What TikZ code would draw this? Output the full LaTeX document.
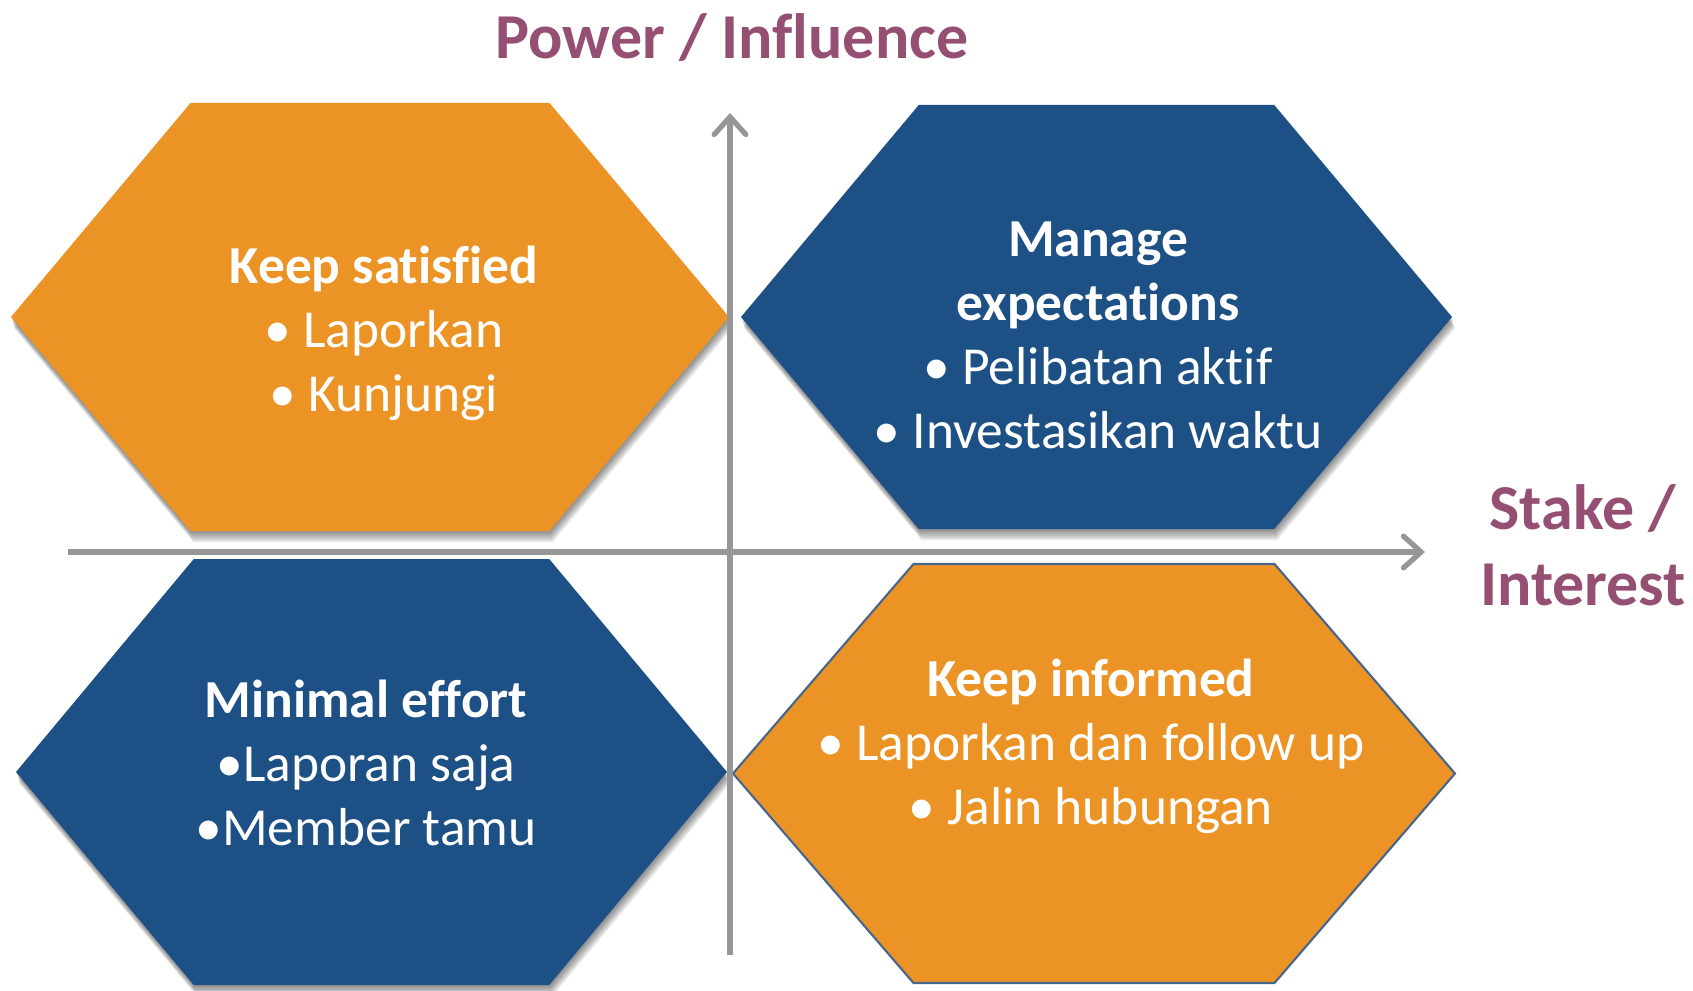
\documentclass[tikz,border=0pt]{standalone}
\usepackage{fontspec}
\setmainfont{Carlito}[Ligatures=NoCommon]
\usetikzlibrary{arrows.meta}
\definecolor{hexorange}{RGB}{235,148,37}
\definecolor{hexblue}{RGB}{29,81,134}
\definecolor{hexedge}{RGB}{72,102,140}
\definecolor{axislabel}{RGB}{149,79,114}
\definecolor{axisgray}{RGB}{150,150,150}

\begin{document}
\begin{tikzpicture}[x=0.01cm,y=-0.01cm,
  hextext/.style={text=white,align=center,font=\fontsize{15.2}{18.2}\selectfont},
  axislbl/.style={text=axislabel,align=center,font=\fontsize{18.2}{21.6}\selectfont\bfseries},
  axisline/.style={draw=axisgray,line width=1.5pt,
    -{Straight Barb[length=5pt,width=9pt,line cap=round]}}]
  \useasboundingbox (0,0) rectangle (1693,991);

  % soft shadows
  \foreach \cx/\cy/\a/\b in {370/317/359/214, 1096.5/317/355.5/212, 371.5/772/355.5/213}
    \foreach \s in {1,...,5}
      \fill[black,opacity=0.1,shift={(\s*0.6,\s*2.2)}]
        (\cx-\a,\cy) -- (\cx-\a/2,\cy-\b) -- (\cx+\a/2,\cy-\b) -- (\cx+\a,\cy)
        -- (\cx+\a/2,\cy+\b) -- (\cx-\a/2,\cy+\b) -- cycle;

  % hexagons
  \foreach \cx/\cy/\a/\b/\col in {370/317/359/214/hexorange,
      1096.5/317/355.5/212/hexblue, 371.5/772/355.5/213/hexblue}
    \fill[\col] (\cx-\a,\cy) -- (\cx-\a/2,\cy-\b) -- (\cx+\a/2,\cy-\b) -- (\cx+\a,\cy)
      -- (\cx+\a/2,\cy+\b) -- (\cx-\a/2,\cy+\b) -- cycle;
  \filldraw[fill=hexorange,draw=hexedge,line width=0.6pt]
    (733,773.5) -- (913.5,564) -- (1274.5,564) -- (1455,773.5)
    -- (1274.5,983) -- (913.5,983) -- cycle;

  \node[hextext] (satisfied) at (384,333) {\textbf{Keep satisfied}\\• Laporkan\\• Kunjungi};
  \node[hextext] (manage) at (1098,335) {\textbf{Manage}\\\textbf{expectations}\\• Pelibatan aktif\\• Investasikan waktu};
  \node[hextext] (minimal) at (366,763) {\textbf{Minimal effort}\\•Laporan saja\\•Member tamu};
  \node[hextext] (informed) at (1091,746) {\textbf{Keep informed}\\• Laporkan dan follow up\\• Jalin hubungan};

  % axes
  \coordinate (ybot) at (730,955);
  \coordinate (ytop) at (730,113);
  \coordinate (xleft) at (68,552);
  \coordinate (xright) at (1425,552);
  \draw[axisline] (ybot) -- (ytop);
  \draw[axisline] (xleft) -- (xright);

  \node[axislbl] (power) at (732,38) {Power / Influence};
  \node[axislbl] (stake) at (1583,545) {Stake /\\Interest};
\end{tikzpicture}
\end{document}
